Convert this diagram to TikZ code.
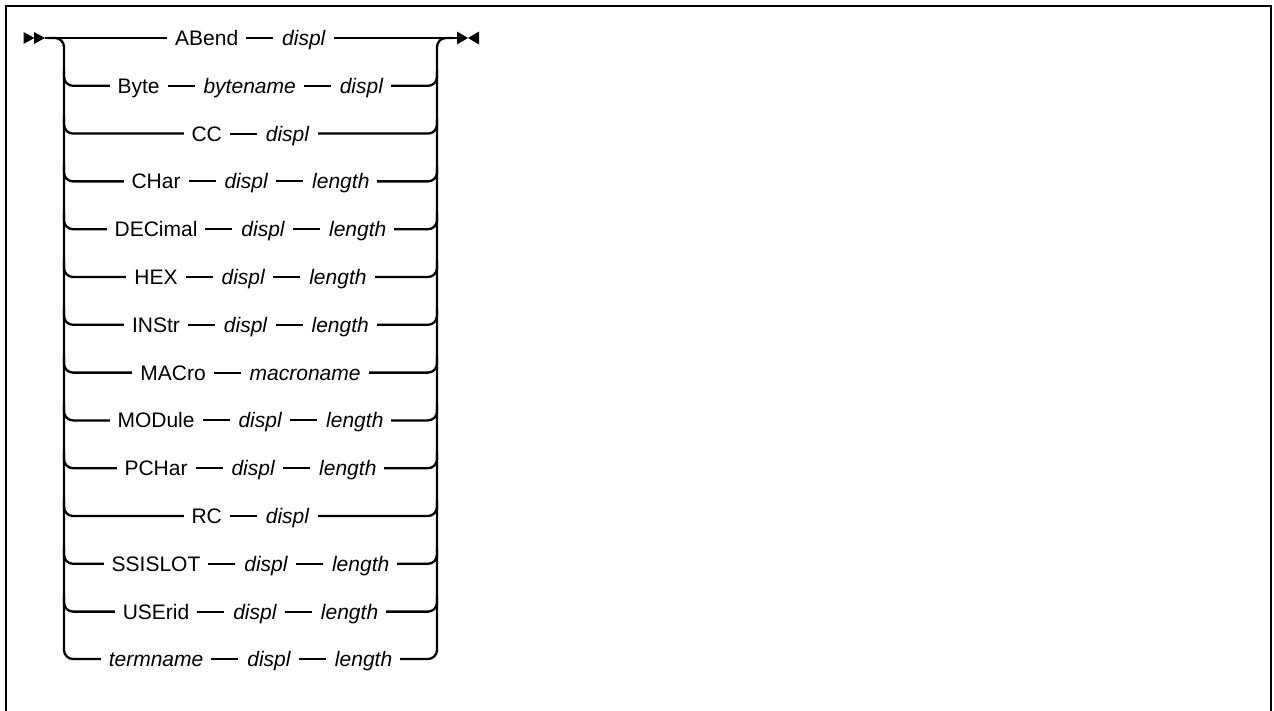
\documentclass[tikz,border=0pt]{standalone}
\usepackage{fontspec}
\setmainfont{Liberation Sans}
\newcommand\rsep{\hspace{8pt}\raisebox{7.5pt}{\rule[-1pt]{27pt}{2pt}}\hspace{9pt}}
\begin{document}
\begin{tikzpicture}[x=1pt,y=-1pt,
  rail/.style={line width=2.3pt, rounded corners=9pt},
  word/.style={fill=white, inner xsep=8pt, inner ysep=2pt, anchor=base,
    font=\fontsize{21pt}{25pt}\selectfont},
  frame/.style={line width=2.6pt},
  tip/.style={fill=black, draw=none}]
\useasboundingbox (0,0) rectangle (1274,711);
\draw[frame] (6,712) -- (6,6) -- (1271,6) -- (1271,712);
% start / end points
\coordinate (begin) at (45,38);
\coordinate (end) at (457,38);
\fill[tip] (23.5,32) -- (34.5,38) -- (23.5,44) -- cycle;
\fill[tip] (34,32) -- (45,38) -- (34,44) -- cycle;
\fill[tip] (457,31.5) -- (468,38) -- (457,44.5) -- cycle;
\fill[tip] (479,31.5) -- (468,38) -- (479,44.5) -- cycle;
% main line and outer brackets
\draw[line width=2.3pt] (begin) -- (end);
\draw[rail] (48,38) -- (64,38) -- (64,659) -- (437,659) -- (437,38) -- (453,38);
% middle rows
\foreach \i in {1,...,12}{
  \pgfmathsetmacro\yy{38+\i*47.8}
  \draw[rail] (64,\yy-16) -- (64,\yy) -- (437,\yy) -- (437,\yy-16);
}
% row texts
\foreach \i/\t in {
  0/{ABend\rsep\textit{displ}},
  1/{Byte\rsep\textit{bytename}\rsep\textit{displ}},
  2/{CC\rsep\textit{displ}},
  3/{CHar\rsep\textit{displ}\rsep\textit{length}},
  4/{DECimal\rsep\textit{displ}\rsep\textit{length}},
  5/{HEX\rsep\textit{displ}\rsep\textit{length}},
  6/{INStr\rsep\textit{displ}\rsep\textit{length}},
  7/{MACro\rsep\textit{macroname}},
  8/{MODule\rsep\textit{displ}\rsep\textit{length}},
  9/{PCHar\rsep\textit{displ}\rsep\textit{length}},
  10/{RC\rsep\textit{displ}},
  11/{SSISLOT\rsep\textit{displ}\rsep\textit{length}},
  12/{USErid\rsep\textit{displ}\rsep\textit{length}},
  13/{\textit{termname}\rsep\textit{displ}\rsep\textit{length}}}{
  \pgfmathsetmacro\yy{38+\i*47.8+7.5}
  \node[word] (row\i) at (250.5,\yy) {\t};
}
\end{tikzpicture}
\end{document}
